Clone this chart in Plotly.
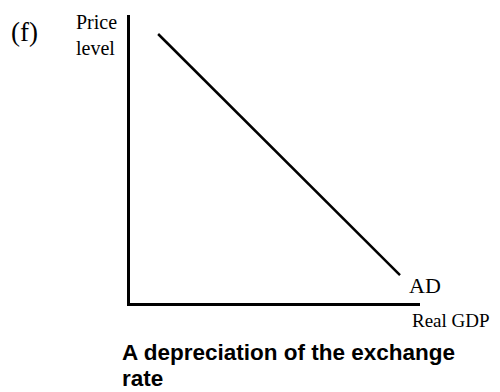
import plotly.graph_objects as go

# Data
ad_x = [9.7, 93.1]
ad_y = [93.4, 9.7]
curve_label = "AD"
x_label = "Real GDP"
y_label = ["Price", "level"]
panel_label = "(f)"
title_lines = ["A depreciation of the exchange", "rate"]

OFF = 8  # page body margin
W, H = 500, 392
L, T = 130 - OFF, 15 - OFF
pw, ph = 290, 288
R, B = W - L - pw, H - T - ph

def px(sx):
    return (sx - OFF - L) / pw

def py(sy):
    return (T + ph - (sy - OFF)) / ph

fig = go.Figure()
fig.add_trace(go.Scatter(x=ad_x, y=ad_y, mode="lines",
                         line=dict(color="black", width=2.5), showlegend=False,
                         hoverinfo="skip"))

serif = "Liberation Serif, Times New Roman, serif"
sans = "Liberation Sans, Arial, sans-serif"

ann = [
    dict(text=panel_label, x=px(10), y=py(32), xanchor="left", yanchor="middle",
         font=dict(family=serif, size=27, color="black")),
    dict(text="<br>".join(y_label), x=px(75), y=py(35), xanchor="left", yanchor="middle",
         align="left", font=dict(family=serif, size=20, color="black")),
    dict(text=curve_label, x=px(408), y=py(285), xanchor="left", yanchor="middle",
         font=dict(family=serif, size=22, color="black")),
    dict(text=x_label, x=px(411), y=py(320), xanchor="left", yanchor="middle",
         font=dict(family=serif, size=19, color="black")),
    dict(text="<b>" + title_lines[0] + "</b>", x=px(121), y=py(352.5), xanchor="left",
         yanchor="middle", font=dict(family=sans, size=22.5, color="black")),
    dict(text="<b>" + title_lines[1] + "</b>", x=px(121), y=py(378.5), xanchor="left",
         yanchor="middle", font=dict(family=sans, size=22.5, color="black")),
]
for a in ann:
    a.update(xref="paper", yref="paper", showarrow=False, borderpad=0)

fig.update_layout(
    width=W, height=H,
    margin=dict(l=L, r=R, t=T, b=B),
    paper_bgcolor="white", plot_bgcolor="white",
    annotations=ann,
    xaxis=dict(range=[0, 100], showgrid=False, zeroline=False, showticklabels=False,
               ticks="", showline=True, linecolor="black", linewidth=2.5),
    yaxis=dict(range=[0, 100], showgrid=False, zeroline=False, showticklabels=False,
               ticks="", showline=True, linecolor="black", linewidth=3),
)

fig.write_html("out.html")
